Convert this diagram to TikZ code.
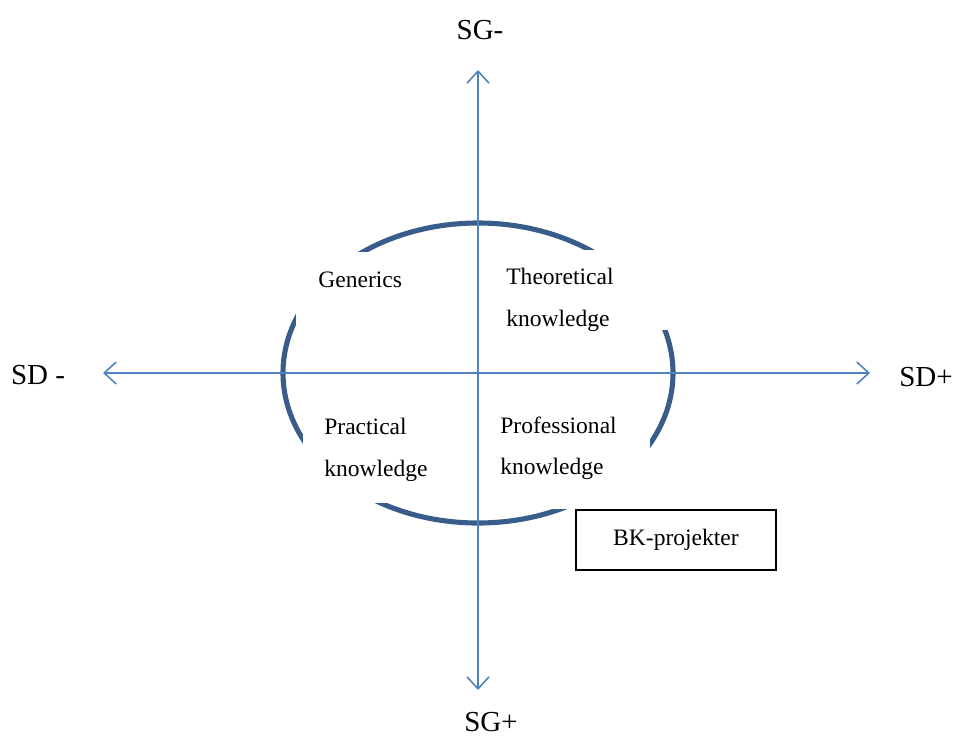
\documentclass[tikz,border=0pt]{standalone}
\usepackage{fontspec}
\setmainfont{Liberation Serif}
\usepackage{tikz}
\usetikzlibrary{positioning,arrows.meta}
\definecolor{axisblue}{HTML}{4F81BD}
\definecolor{ringblue}{HTML}{385D8A}

\begin{document}
\begin{tikzpicture}[x=0.02cm,y=0.02cm,
    axis/.style={axisblue, line width=0.9pt, {Straight Barb[length=2.4mm,width=4.4mm]}-{Straight Barb[length=2.4mm,width=4.4mm]}},
    ring/.style={ringblue, line width=2.9pt},
    quad/.style={anchor=west, inner sep=0pt, align=left, font=\fontsize{13.4}{23.6}\selectfont},
    pole/.style={inner sep=0pt, font=\fontsize{16.5}{20}\selectfont}]
      \useasboundingbox (-478,-365) rectangle (477,373);
      \coordinate (ctr) at (0,0);
      \coordinate (west) at (-375,0);
      \coordinate (east) at (392,0);
      \coordinate (north) at (0,303);
      \coordinate (south) at (0,-317);

      % the ring, broken where the texts sit
      \draw[ring] (ctr) ellipse[x radius=195, y radius=150];
      \fill[white] (-182,121) rectangle (-28,33);
      \fill[white] (22,123) rectangle (202,43);
      \fill[white] (-175,-27) rectangle (-18,-130);
      \fill[white] (12,-22) rectangle (172,-136);

      \draw[axis] (west) -- (east);
      \draw[axis] (north) -- (south);

      \node[pole] (sgminus) at (2,343) {SG-};
      \node[pole] (sgplus) at (13,-349) {SG+};
      \node[pole] (sdminus) at (-440,-2) {SD -};
      \node[pole] (sdplus) at (448,-4) {SD+};

      \node[quad] (generics) at (-160,93) {Generics};
      \node[quad] (theoretical) at (28,73) {Theoretical\\knowledge};
      \node[quad] (practical) at (-154,-77) {Practical\\knowledge};
      \node[quad] (professional) at (22,-75) {Professional\\knowledge};

      \node[draw=black, line width=0.6pt, minimum width=4cm, minimum height=1.2cm, font=\fontsize{13.4}{16}\selectfont] (bk) at (198,-167) {BK-projekter};
    \end{tikzpicture}
\end{document}
